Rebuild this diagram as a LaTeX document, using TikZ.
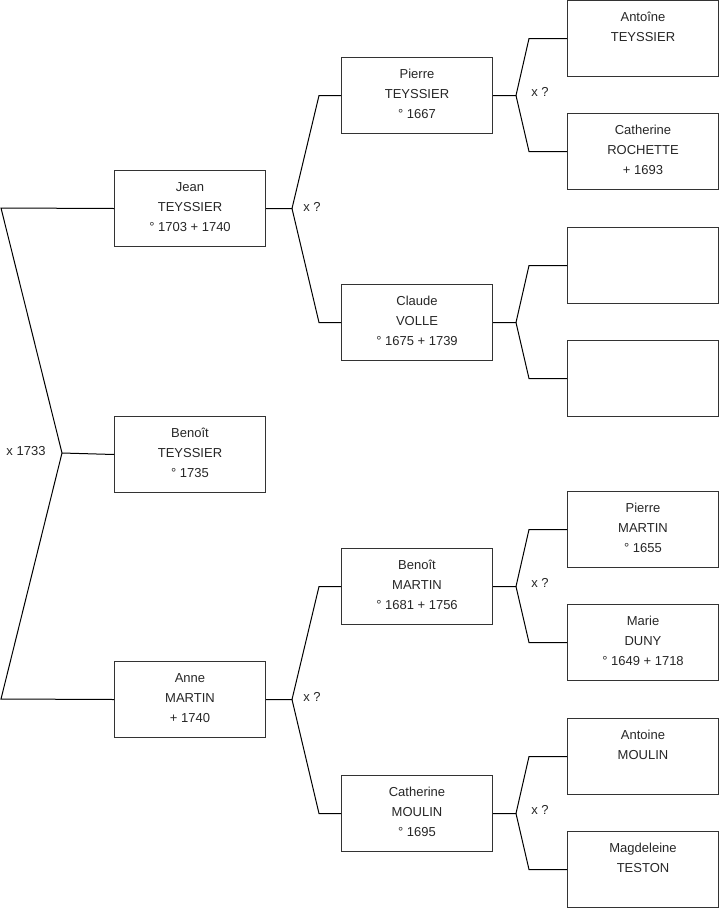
\documentclass[tikz,border=0pt]{standalone}
\usepackage{fontspec}
\setmainfont{Liberation Sans}
\newcommand\ptext[1]{\parbox[c][76pt][t]{151pt}{\centering\rule{0pt}{20.5pt}#1}}
\tikzset{
  person/.style={draw=black!80, line width=1pt, inner sep=0pt, minimum width=151pt,
    minimum height=76pt, anchor=north west, font=\fontsize{13}{20}\selectfont, text=black!85},
  link/.style={draw=black, line width=1pt},
  marr/.style={font=\fontsize{13}{14}\selectfont, text=black!85, inner sep=0pt}
}
\begin{document}
\begin{tikzpicture}[x=1pt,y=-1pt]
\useasboundingbox (0,0) rectangle (719,908);
% column 1
\node[person] (jean)   at (114,170) {\ptext{Jean\\TEYSSIER\\° 1703 + 1740}};
\node[person] (benoit) at (114,416) {\ptext{Benoît\\TEYSSIER\\° 1735}};
\node[person] (anne)   at (114,661) {\ptext{Anne\\MARTIN\\+ 1740}};
% column 2
\node[person] (pierre)  at (341,57)  {\ptext{Pierre\\TEYSSIER\\° 1667}};
\node[person] (claude)  at (341,284) {\ptext{Claude\\VOLLE\\° 1675 + 1739}};
\node[person] (benoitm) at (341,548) {\ptext{Benoît\\MARTIN\\° 1681 + 1756}};
\node[person] (cathm)   at (341,775) {\ptext{Catherine\\MOULIN\\° 1695}};
% column 3
\node[person] (antoine)  at (567,0)   {\ptext{Antoîne\\TEYSSIER}};
\node[person] (cathr)    at (567,113) {\ptext{Catherine\\ROCHETTE\\+ 1693}};
\node[person] (empty1)   at (567,227) {\ptext{}};
\node[person] (empty2)   at (567,340) {\ptext{}};
\node[person] (pierrem)  at (567,491) {\ptext{Pierre\\MARTIN\\° 1655}};
\node[person] (marie)    at (567,604) {\ptext{Marie\\DUNY\\° 1649 + 1718}};
\node[person] (antoinem) at (567,718) {\ptext{Antoine\\MOULIN}};
\node[person] (magd)     at (567,831) {\ptext{Magdeleine\\TESTON}};

% root fork
\coordinate (r1) at (1,208);
\coordinate (rm) at (62,453);
\coordinate (r2) at (1,699);
\draw[link] (jean.west) -- (r1) -- (rm) -- (r2) -- (anne.west);
\draw[link] (rm) -- (benoit.west);
\node[marr] (m0) at (26,451) {x 1733};

% forks: parent -> two children
\draw[link] (jean.east) -- ++(26,0) coordinate (j1)
  -- ([xshift=-22pt]pierre.west) -- (pierre.west);
\draw[link] (j1) -- ([xshift=-22pt]claude.west) -- (claude.west);
\node[marr] (m1) at (312,207) {x ?};

\draw[link] (anne.east) -- ++(26,0) coordinate (j2)
  -- ([xshift=-22pt]benoitm.west) -- (benoitm.west);
\draw[link] (j2) -- ([xshift=-22pt]cathm.west) -- (cathm.west);
\node[marr] (m2) at (312,697) {x ?};

\draw[link] (pierre.east) -- ++(23,0) coordinate (j3)
  -- ([xshift=-38pt]antoine.west) -- (antoine.west);
\draw[link] (j3) -- ([xshift=-38pt]cathr.west) -- (cathr.west);
\node[marr] (m3) at (540,92) {x ?};

\draw[link] (claude.east) -- ++(23,0) coordinate (j4)
  -- ([xshift=-38pt]empty1.west) -- (empty1.west);
\draw[link] (j4) -- ([xshift=-38pt]empty2.west) -- (empty2.west);

\draw[link] (benoitm.east) -- ++(23,0) coordinate (j5)
  -- ([xshift=-38pt]pierrem.west) -- (pierrem.west);
\draw[link] (j5) -- ([xshift=-38pt]marie.west) -- (marie.west);
\node[marr] (m5) at (540,583) {x ?};

\draw[link] (cathm.east) -- ++(23,0) coordinate (j6)
  -- ([xshift=-38pt]antoinem.west) -- (antoinem.west);
\draw[link] (j6) -- ([xshift=-38pt]magd.west) -- (magd.west);
\node[marr] (m6) at (540,810) {x ?};
\end{tikzpicture}
\end{document}
